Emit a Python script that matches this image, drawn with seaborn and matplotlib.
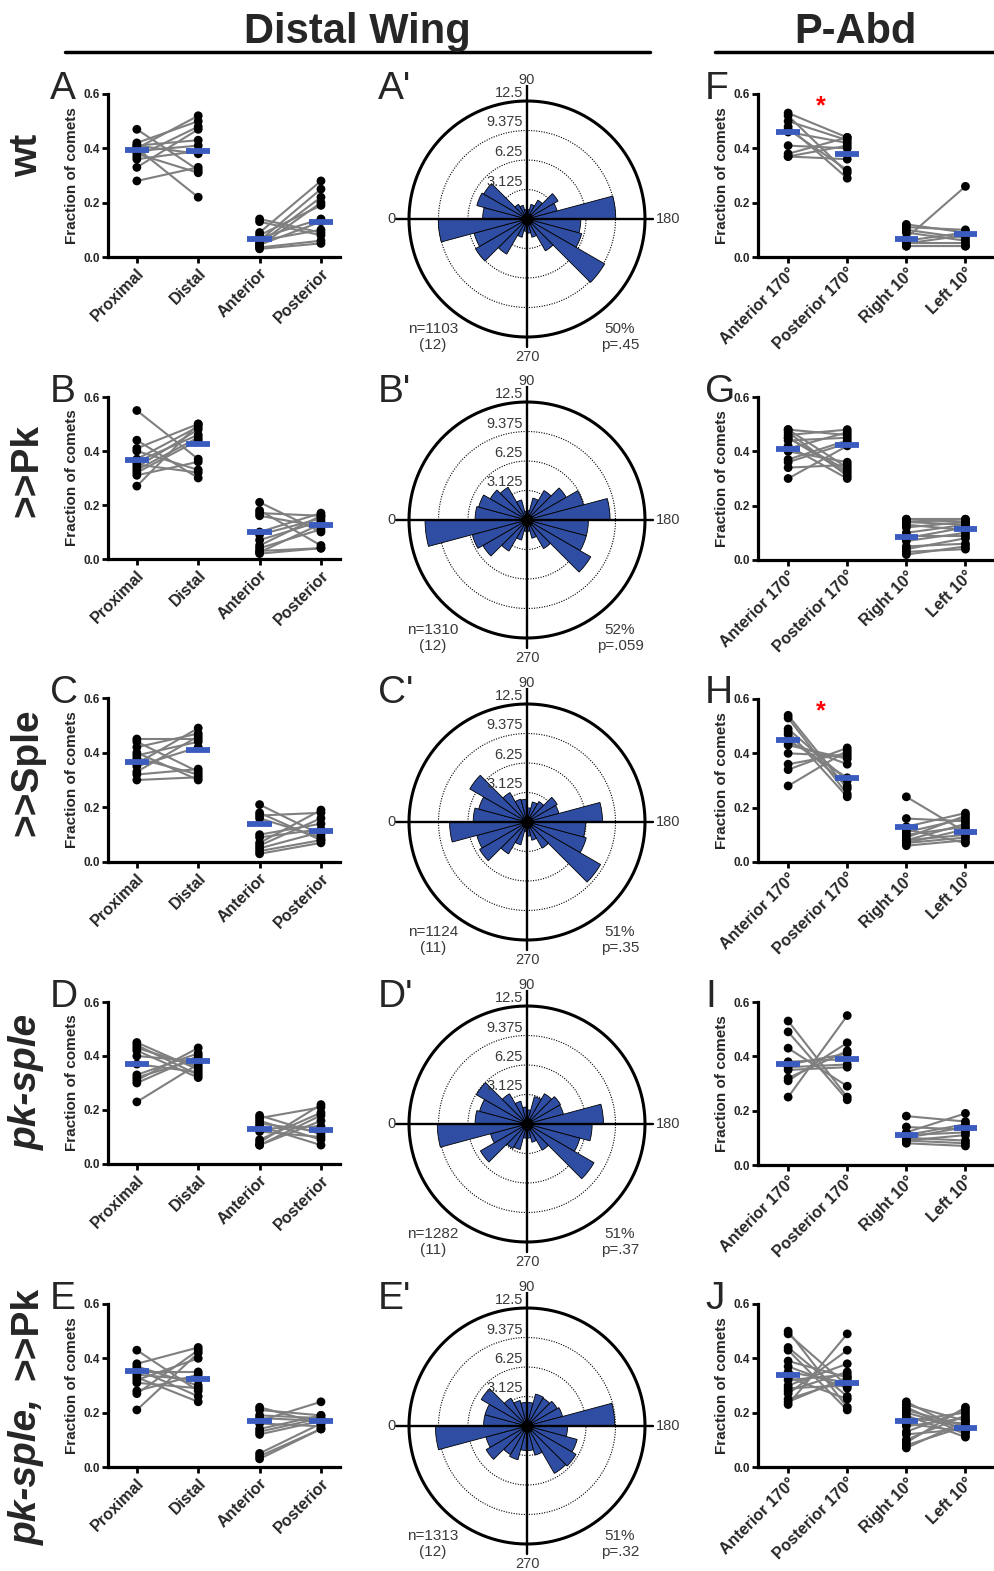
import numpy as np
import pandas as pd
import matplotlib
matplotlib.use('Agg')
import matplotlib.pyplot as plt
import seaborn as sns

sns.set_style('white')
plt.rcParams['font.family'] = ['Liberation Sans', 'DejaVu Sans']

# ---------- data ----------
wing_labels = ['Proximal', 'Distal', 'Anterior', 'Posterior']
abd_labels = ['Anterior 170°', 'Posterior 170°', 'Right 10°', 'Left 10°']
row_names = ['wt', '>>Pk', '>>Sple', 'pk-sple', 'pk-sple, >>Pk']

# distal wing, paired per wing (element i of a pair belongs together)
A_prox = [0.47, 0.42, 0.41, 0.41, 0.40, 0.40, 0.39, 0.38, 0.37, 0.36, 0.33, 0.28]
A_dist = [0.32, 0.50, 0.38, 0.43, 0.22, 0.52, 0.41, 0.31, 0.48, 0.39, 0.47, 0.33]
A_ant = [0.14, 0.13, 0.09, 0.08, 0.07, 0.06, 0.06, 0.05, 0.045, 0.04, 0.035, 0.03]
A_post = [0.09, 0.08, 0.28, 0.19, 0.14, 0.25, 0.10, 0.22, 0.13, 0.20, 0.06, 0.05]

B_prox = [0.55, 0.44, 0.41, 0.40, 0.37, 0.36, 0.35, 0.34, 0.33, 0.32, 0.31, 0.27]
B_dist = [0.37, 0.30, 0.50, 0.33, 0.49, 0.46, 0.32, 0.48, 0.45, 0.44, 0.36, 0.50]
B_ant = [0.21, 0.18, 0.17, 0.16, 0.10, 0.09, 0.07, 0.05, 0.04, 0.03, 0.025, 0.02]
B_post = [0.10, 0.05, 0.16, 0.12, 0.17, 0.15, 0.14, 0.16, 0.11, 0.04, 0.13, 0.04]

C_prox = [0.45, 0.44, 0.42, 0.40, 0.39, 0.38, 0.36, 0.35, 0.33, 0.32, 0.30]
C_dist = [0.45, 0.33, 0.47, 0.30, 0.44, 0.32, 0.49, 0.42, 0.46, 0.34, 0.31]
C_ant = [0.21, 0.18, 0.17, 0.16, 0.10, 0.09, 0.07, 0.06, 0.05, 0.04, 0.03]
C_post = [0.10, 0.08, 0.18, 0.09, 0.14, 0.12, 0.19, 0.16, 0.11, 0.08, 0.07]

D_prox = [0.45, 0.44, 0.43, 0.42, 0.40, 0.37, 0.33, 0.32, 0.31, 0.30, 0.23]
D_dist = [0.35, 0.33, 0.36, 0.32, 0.38, 0.34, 0.41, 0.39, 0.43, 0.40, 0.37]
D_ant = [0.18, 0.17, 0.16, 0.15, 0.14, 0.13, 0.12, 0.09, 0.08, 0.07, 0.07]
D_post = [0.11, 0.21, 0.09, 0.12, 0.07, 0.14, 0.10, 0.19, 0.22, 0.16, 0.18]

E_prox = [0.43, 0.38, 0.37, 0.36, 0.35, 0.34, 0.33, 0.32, 0.31, 0.28, 0.27, 0.21]
E_dist = [0.28, 0.44, 0.30, 0.26, 0.35, 0.32, 0.24, 0.40, 0.29, 0.34, 0.43, 0.42]
E_ant = [0.22, 0.21, 0.19, 0.18, 0.17, 0.16, 0.14, 0.13, 0.12, 0.05, 0.04, 0.03]
E_post = [0.16, 0.19, 0.18, 0.17, 0.24, 0.15, 0.19, 0.18, 0.17, 0.16, 0.14, 0.14]

# P-Abd
F_ant = [0.53, 0.52, 0.50, 0.48, 0.47, 0.46, 0.41, 0.38, 0.37, 0.37]
F_post = [0.44, 0.31, 0.43, 0.29, 0.32, 0.42, 0.40, 0.44, 0.36, 0.41]
F_right = [0.12, 0.11, 0.10, 0.09, 0.07, 0.06, 0.05, 0.05, 0.04, 0.04]
F_left = [0.09, 0.10, 0.07, 0.06, 0.26, 0.09, 0.08, 0.05, 0.04, 0.04]

G_ant = [0.48, 0.48, 0.47, 0.46, 0.45, 0.44, 0.42, 0.41, 0.40, 0.37, 0.36, 0.34, 0.30, 0.45]
G_post = [0.34, 0.46, 0.31, 0.48, 0.33, 0.45, 0.30, 0.47, 0.36, 0.44, 0.43, 0.35, 0.42, 0.32]
G_right = [0.15, 0.15, 0.14, 0.13, 0.12, 0.10, 0.09, 0.08, 0.07, 0.05, 0.04, 0.03, 0.02, 0.14]
G_left = [0.15, 0.14, 0.15, 0.11, 0.14, 0.13, 0.09, 0.12, 0.10, 0.06, 0.08, 0.04, 0.05, 0.13]

H_ant = [0.54, 0.53, 0.49, 0.48, 0.47, 0.45, 0.44, 0.43, 0.40, 0.36, 0.34, 0.28]
H_post = [0.27, 0.25, 0.30, 0.24, 0.28, 0.31, 0.36, 0.38, 0.39, 0.40, 0.42, 0.41]
H_right = [0.24, 0.16, 0.13, 0.12, 0.11, 0.10, 0.09, 0.08, 0.08, 0.07, 0.07, 0.06]
H_left = [0.11, 0.15, 0.18, 0.07, 0.16, 0.13, 0.17, 0.10, 0.14, 0.12, 0.09, 0.08]

I_ant = [0.53, 0.49, 0.43, 0.38, 0.37, 0.36, 0.35, 0.32, 0.31, 0.25]
I_post = [0.25, 0.24, 0.29, 0.39, 0.41, 0.37, 0.36, 0.42, 0.45, 0.55]
I_right = [0.18, 0.14, 0.12, 0.11, 0.11, 0.10, 0.10, 0.09, 0.09, 0.08]
I_left = [0.16, 0.13, 0.19, 0.12, 0.15, 0.14, 0.09, 0.11, 0.08, 0.07]

J_ant = [0.50, 0.49, 0.44, 0.43, 0.39, 0.37, 0.35, 0.33, 0.32, 0.30, 0.29, 0.28, 0.27, 0.25, 0.24, 0.23]
J_post = [0.22, 0.30, 0.26, 0.21, 0.33, 0.29, 0.31, 0.25, 0.34, 0.38, 0.30, 0.35, 0.43, 0.32, 0.33, 0.49]
J_right = [0.24, 0.23, 0.22, 0.21, 0.20, 0.19, 0.18, 0.17, 0.16, 0.15, 0.13, 0.12, 0.10, 0.09, 0.08, 0.07]
J_left = [0.13, 0.17, 0.12, 0.15, 0.14, 0.11, 0.16, 0.20, 0.13, 0.18, 0.21, 0.14, 0.19, 0.22, 0.15, 0.17]

# blue bars (group centre values)
wing_meds = [[0.395, 0.39, 0.065, 0.13],
             [0.365, 0.425, 0.10, 0.125],
             [0.365, 0.41, 0.14, 0.115],
             [0.37, 0.38, 0.13, 0.125],
             [0.355, 0.325, 0.17, 0.17]]
abd_meds = [[0.46, 0.38, 0.065, 0.085],
            [0.41, 0.425, 0.085, 0.115],
            [0.45, 0.31, 0.13, 0.11],
            [0.37, 0.39, 0.11, 0.135],
            [0.34, 0.31, 0.17, 0.145]]

# rose histograms: 24 bins of 15 deg, 0 = left, clockwise (90 = up)
rose_A = [4.7, 5.5, 5.3, 1.8, 1.5, 1.0, 1.0, 1.6, 2.3, 3.8, 3.3, 9.4, 5.7, 6.0, 9.5, 3.9, 2.0, 1.5, 1.3, 2.0, 4.3, 6.3, 5.8, 9.4]
rose_B = [5.5, 5.3, 4.5, 4.0, 2.2, 0.9, 1.0, 2.4, 3.6, 4.8, 6.2, 8.8, 6.5, 6.5, 7.8, 3.5, 2.0, 1.2, 1.2, 2.2, 3.8, 5.4, 6.0, 10.8]
rose_C = [5.7, 5.3, 7.0, 3.6, 2.5, 2.4, 1.5, 2.2, 2.5, 3.7, 3.5, 8.0, 6.2, 6.5, 9.0, 3.2, 2.0, 1.5, 1.0, 2.5, 3.9, 5.8, 5.5, 8.2]
rose_D = [5.5, 5.2, 6.2, 3.7, 2.5, 1.8, 1.5, 3.0, 3.7, 4.1, 4.0, 8.1, 6.9, 5.8, 8.2, 3.2, 2.0, 1.5, 1.5, 2.8, 3.0, 5.7, 4.0, 9.5]
rose_E = [4.6, 4.6, 5.6, 3.4, 2.8, 2.5, 2.5, 3.5, 3.4, 3.7, 3.9, 9.3, 4.3, 5.5, 6.0, 5.8, 3.2, 2.6, 2.6, 3.7, 3.5, 5.0, 4.5, 9.7]
rose_rings = [3.125, 6.25, 9.375, 12.5]
rose_n = ['n=1103\n(12)', 'n=1310\n(12)', 'n=1124\n(11)', 'n=1282\n(11)', 'n=1313\n(12)']
rose_p = ['50%\np=.45', '52%\np=.059', '51%\np=.35', '51%\np=.37', '51%\np=.32']

wing_data = [[A_prox, A_dist, A_ant, A_post], [B_prox, B_dist, B_ant, B_post],
             [C_prox, C_dist, C_ant, C_post], [D_prox, D_dist, D_ant, D_post],
             [E_prox, E_dist, E_ant, E_post]]
abd_data = [[F_ant, F_post, F_right, F_left], [G_ant, G_post, G_right, G_left],
            [H_ant, H_post, H_right, H_left], [I_ant, I_post, I_right, I_left],
            [J_ant, J_post, J_right, J_left]]
roses = [rose_A, rose_B, rose_C, rose_D, rose_E]
stars = [True, False, True, False, False]   # significance marks in P-Abd

W, H = 995, 1571
BLUE = '#3a5cbf'
ROSE_BLUE = '#2f4ea3'
GREY_TXT = '#3a3a3a'


def fx(x):
    return x / W


def fy(y):
    return 1 - y / H


def strip_panel(ax, groups, meds, labels, xlim):
    rows = []
    for k, (a, b) in enumerate([(0, 1), (2, 3)]):
        for i, (va, vb) in enumerate(zip(groups[a], groups[b])):
            rows.append({'pos': a, 'val': va, 'unit': f'{k}_{i}'})
            rows.append({'pos': b, 'val': vb, 'unit': f'{k}_{i}'})
    df = pd.DataFrame(rows)
    sns.lineplot(data=df, x='pos', y='val', units='unit', estimator=None,
                 color='#7f7f7f', lw=1.5, ax=ax, legend=False, zorder=1)
    sns.scatterplot(data=df, x='pos', y='val', color='black', s=40,
                    edgecolor='none', ax=ax, zorder=3, legend=False, clip_on=False)
    x = np.arange(4)
    ax.hlines(meds, x - 0.2, x + 0.2, color=BLUE, lw=4.2, zorder=4)
    ax.set_xlim(*xlim)
    ax.set_ylim(0, 0.6)
    ax.set_yticks([0, 0.2, 0.4, 0.6])
    ax.set_yticklabels(['0.0', '0.2', '0.4', '0.6'], fontweight='bold', fontsize=8.5)
    ax.set_xticks(x)
    ax.set_xticklabels(labels, rotation=45, ha='right', rotation_mode='anchor',
                       fontweight='bold', fontsize=11.5)
    ax.set_xlabel('')
    ax.set_ylabel('Fraction of comets', fontweight='bold', fontsize=11, labelpad=3)
    for s in ['top', 'right']:
        ax.spines[s].set_visible(False)
    for s in ['left', 'bottom']:
        ax.spines[s].set_linewidth(2.3)
        ax.spines[s].set_color('black')
    ax.tick_params(axis='both', width=2, length=4, color='black', pad=2,
                   left=True, bottom=True)
    ax.patch.set_alpha(0)


def rose_panel(fig, vals, cx, cy, ntxt, ptxt):
    rpx = 118 / 12.5          # pixels per unit
    rmax = 14.2
    half = rmax * rpx
    ax = fig.add_axes([fx(cx - half), fy(cy + half), 2 * half / W, 2 * half / H],
                      projection='polar')
    ax.set_theta_zero_location('W')
    ax.set_theta_direction(-1)
    theta = np.deg2rad(np.arange(24) * 15 + 7.5)
    ax.bar(theta, vals, width=np.deg2rad(15), color=ROSE_BLUE,
           edgecolor='black', lw=0.6, zorder=2)
    tt = np.linspace(0, 2 * np.pi, 400)
    for r in rose_rings[:-1]:
        ax.plot(tt, np.full_like(tt, r), color='black', lw=0.8,
                ls=(0, (1, 1.3)), zorder=1)
    ax.plot(tt, np.full_like(tt, rose_rings[-1]), color='black', lw=2.2, zorder=3)
    for ang, rr in [(0, 13.9), (np.pi / 2, 14.2), (np.pi, 13.4), (1.5 * np.pi, 13.6)]:
        ax.plot([ang, ang], [0, rr], color='black', lw=1.7, zorder=4)
    ax.plot(0, 0, 'o', color='black', ms=8, zorder=5)
    ax.set_ylim(0, rmax)
    ax.grid(False)
    ax.set_xticks([])
    ax.set_yticks([])
    ax.spines['polar'].set_visible(False)
    ax.patch.set_alpha(0)

    kw = dict(color=GREY_TXT, fontsize=10.5)
    fig.text(fx(cx), fy(cy - 139), '90', ha='center', va='center', **kw)
    fig.text(fx(cx), fy(cy + 138), '270', ha='center', va='center', **kw)
    fig.text(fx(cx - 135), fy(cy), '0', ha='center', va='center', **kw)
    fig.text(fx(cx + 129), fy(cy), '180', ha='left', va='center', **kw)
    for r, lab in zip(rose_rings, ['3.125', '6.25', '9.375', '12.5']):
        fig.text(fx(cx - 4), fy(cy - r * rpx - 1), lab, ha='right', va='bottom', **kw)
    fig.text(fx(cx - 94), fy(cy + 118), ntxt, ha='center', va='center',
             linespacing=1.1, color=GREY_TXT, fontsize=11)
    fig.text(fx(cx + 93), fy(cy + 118), ptxt, ha='center', va='center',
             linespacing=1.1, color=GREY_TXT, fontsize=11)


fig = plt.figure(figsize=(W / 100, H / 100), dpi=100)

# header
fig.text(fx(357), fy(32), 'Distal Wing', ha='center', va='center',
         fontsize=30, fontweight='bold')
fig.text(fx(855), fy(32), 'P-Abd', ha='center', va='center',
         fontsize=30, fontweight='bold')
fig.add_artist(plt.Line2D([fx(65), fx(650)], [fy(52), fy(52)], color='black', lw=2.5))
fig.add_artist(plt.Line2D([fx(715), fx(995)], [fy(52), fy(52)], color='black', lw=2.5))

left_rows = [(94, 257), (397, 559), (698, 862), (1002, 1164), (1304, 1467)]
right_rows = [(94, 257), (397, 560), (699, 862), (1002, 1165), (1304, 1467)]
rose_cy = [219, 520, 822, 1124, 1426]
letters = [('A', "A'", 'F'), ('B', "B'", 'G'), ('C', "C'", 'H'),
           ('D', "D'", 'I'), ('E', "E'", 'J')]
row_y = [155, 470, 772, 1082, None]

for i in range(5):
    top, bot = left_rows[i]
    ax = fig.add_axes([fx(108), fy(bot), (340 - 108) / W, (bot - top) / H])
    strip_panel(ax, wing_data[i], wing_meds[i], wing_labels, (-0.47, 3.31))

    top2, bot2 = right_rows[i]
    ax2 = fig.add_axes([fx(758), fy(bot2), (995 - 758) / W, (bot2 - top2) / H])
    strip_panel(ax2, abd_data[i], abd_meds[i], abd_labels, (-0.51, 3.5))
    if stars[i]:
        ax2.text(0.55, 0.555, '*', color='red', fontsize=18, fontweight='bold',
                 ha='center', va='center')

    rose_panel(fig, roses[i], 527, rose_cy[i], rose_n[i], rose_p[i])

    la, lb, lc = letters[i]
    fig.text(fx(50), fy(top + 5), la, fontsize=28, ha='left', va='baseline')
    fig.text(fx(378), fy(top + 5), lb, fontsize=28, ha='left', va='baseline')
    fig.text(fx(705), fy(top + 5), lc, fontsize=28, ha='left', va='baseline')

# row labels (rotated)
for i in range(4):
    style = 'italic' if row_names[i] == 'pk-sple' else 'normal'
    fig.text(fx(27), fy(row_y[i]), row_names[i], rotation=90, ha='center',
             va='center', fontsize=28, fontweight='bold', style=style)
fig.text(fx(27), fy(1472), 'pk-sple,', rotation=90, ha='center', va='center',
         fontsize=28, fontweight='bold', style='italic')
fig.text(fx(27), fy(1333), '>>Pk', rotation=90, ha='center', va='center',
         fontsize=28, fontweight='bold')

fig.savefig('out.png', dpi=100)
